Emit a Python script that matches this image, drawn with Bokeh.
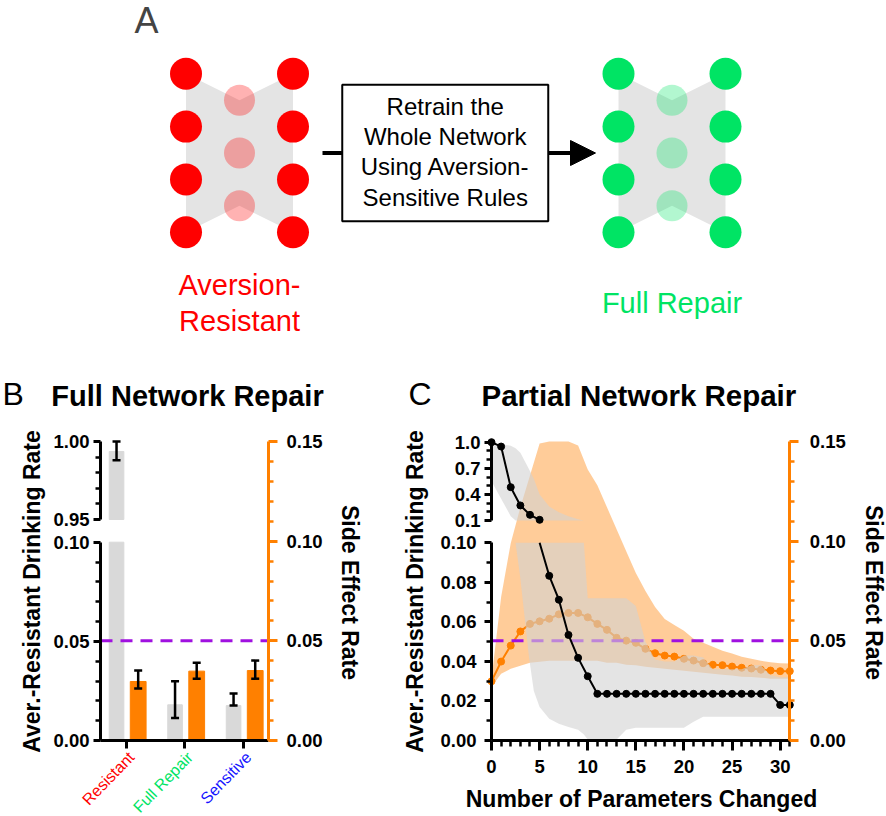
import numpy as np
from bokeh.plotting import figure
from bokeh.models import (Range1d, LinearAxis, FixedTicker, NumeralTickFormatter, Label,
                          Whisker, TeeHead, ColumnDataSource, Arrow, NormalHead)
from bokeh.layouts import column, row
from bokeh.embed import file_html
from bokeh.resources import INLINE
from bokeh.core.properties import value

FONT = "Liberation Sans"
RED = "#ff0000"
GREEN = "#00e464"
BLUE = "#1414ff"
ORANGE = "#ff8000"
PURPLE = "#a010e0"
GRAY_BAR = "#d9d9d9"
GRAY_BAND = "#d2d2d2"
HEX_GRAY = "#e4e4e4"

# ======================= DATA =======================
# Panel A : network schematic
layer_sizes = [4, 3, 4]
net_colors = [RED, GREEN]
net_labels = [["Aversion-", "Resistant"], ["Full Repair"]]
box_lines = ["Retrain the", "Whole Network", "Using Aversion-", "Sensitive Rules"]

# Panel B : full network repair
cats_B = ["Resistant", "Full Repair", "Sensitive"]
cat_colors_B = [RED, GREEN, BLUE]
drink_B = [0.9936, 0.0180, 0.0176]
drink_B_low = [0.9880, 0.0114, 0.0176]
drink_B_high = [1.0000, 0.0299, 0.0237]
side_B = [0.0296, 0.0348, 0.0351]
side_B_low = [0.0261, 0.0310, 0.0310]
side_B_high = [0.0351, 0.0390, 0.0401]
threshold = 0.05

# Panel C : partial network repair
n_C = [0, 1, 2, 3, 4, 5, 6, 7, 8, 9, 10, 11, 12, 13, 14, 15,
       16, 17, 18, 19, 20, 21, 22, 23, 24, 25, 26, 27, 28, 29, 30, 31]
drink_C = [1.0, 0.95, 0.483, 0.273, 0.165, 0.108, 0.0833, 0.0712, 0.0534, 0.0418, 0.0325,
           0.0236, 0.0236, 0.0236, 0.0236, 0.0236, 0.0236, 0.0236, 0.0236, 0.0236, 0.0236,
           0.0236, 0.0236, 0.0236, 0.0236, 0.0236, 0.0236, 0.0236, 0.0236, 0.0236, 0.018, 0.018]
side_C = [0.0297, 0.0396, 0.0476, 0.0547, 0.0585, 0.0598, 0.0611, 0.0633, 0.0640, 0.0640,
          0.0618, 0.0585, 0.0555, 0.0515, 0.0501, 0.0490, 0.0460, 0.0438, 0.0426, 0.0421,
          0.0410, 0.0401, 0.0388, 0.0380, 0.0378, 0.0371, 0.0365, 0.0361, 0.0355, 0.0351,
          0.0348, 0.0348]
side_C_low = [0.027, 0.0335, 0.036, 0.0375, 0.039, 0.0395, 0.040, 0.040, 0.040, 0.040,
              0.040, 0.040, 0.039, 0.039, 0.038, 0.0378, 0.037, 0.0365, 0.036, 0.0355,
              0.035, 0.0345, 0.034, 0.0335, 0.033, 0.0326, 0.032, 0.0318, 0.0315, 0.031,
              0.031, 0.031]
side_C_high = [0.031, 0.072, 0.099, 0.117, 0.133, 0.149, 0.150, 0.150, 0.150, 0.148,
               0.136, 0.128, 0.117, 0.106, 0.095, 0.084, 0.075, 0.067, 0.061, 0.058,
               0.055, 0.051, 0.049, 0.047, 0.045, 0.0436, 0.042, 0.041, 0.040, 0.0393,
               0.0388, 0.0386]
band_x_C = [0, 1, 2, 2.5, 3, 3.9, 4.4, 5, 6, 7, 8, 9, 9.6, 10, 11, 12, 13, 14, 15, 16,
            17, 18, 19, 20, 21, 22, 23, 24, 25, 26, 27, 28, 29, 30, 31]
drink_C_low = [0.55, 0.35, 0.15, 0.10, 0.082, 0.042, 0.025, 0.017, 0.011, 0.0085, 0.0068,
               0.0055, 0.003, 0.0005, 0.0, 0.0, 0.0005, 0.0055, 0.0065, 0.0065, 0.0065,
               0.0065, 0.0065, 0.0065, 0.0095, 0.012, 0.012, 0.012, 0.012, 0.012, 0.012,
               0.012, 0.012, 0.012, 0.012]
drink_C_high = [0.98, 0.975, 0.96, 0.93, 0.88, 0.69, 0.58, 0.40, 0.26, 0.195, 0.15, 0.115,
                0.10, 0.072, 0.072, 0.072, 0.072, 0.072, 0.068, 0.050, 0.041, 0.040, 0.040,
                0.043, 0.043, 0.042, 0.036, 0.036, 0.036, 0.036, 0.038, 0.038, 0.033, 0.032,
                0.032]

# broken-axis segments (left axis) and right axis
B_HI = (0.95, 1.00)
B_LO = (0.0, 0.10)
C_HI = (0.1, 1.0)
C_LO = (0.0, 0.10)
SIDE = (0.0, 0.15)
B_XB = (0.556, 3.427)          # extent of panel B's x axis (category units)
C_XB = (n_C[0], n_C[-1])       # extent of panel C's x axis

# ======================= LAYOUT HELPERS =======================
PAGE_W, PAGE_H = 886, 816
A_H = 372
B_W = 395


def xr(d0, d1, p0, p1, size):
    """Range placing data d0, d1 on pixels p0, p1 (from the canvas's left)."""
    s = (d1 - d0) / (p1 - p0)
    start = d0 - p0 * s
    return Range1d(start, start + size * s)


def yr(d0, d1, p0, p1, size):
    """Range placing data d0, d1 on pixels p0, p1 (from the canvas's top)."""
    s = (d1 - d0) / (p0 - p1)
    end = d1 + p1 * s
    return Range1d(end - size * s, end)


def style_axis(ax, color="black", tick_out=8, minor_out=5, standoff=5,
               size="18.5px", style="bold", label_color="black"):
    ax.axis_line_color = color
    ax.axis_line_width = 3
    ax.major_tick_line_color = color
    ax.major_tick_line_width = 3
    ax.minor_tick_line_color = color
    ax.minor_tick_line_width = 2.5
    ax.major_tick_in = 0
    ax.major_tick_out = tick_out
    ax.minor_tick_in = 0
    ax.minor_tick_out = minor_out
    ax.major_label_standoff = standoff
    ax.major_label_text_font = FONT
    ax.major_label_text_font_style = style
    ax.major_label_text_font_size = size
    ax.major_label_text_color = label_color


def steps(a, b, d):
    return [round(v, 4) for v in np.arange(a, b + d / 2, d)]


def minor(a, b, d, majors):
    return [v for v in steps(a, b, d) if all(abs(v - m) > 1e-9 for m in majors)]


def whisker(p, base, low, high, rng=None):
    src = ColumnDataSource(dict(base=list(base), lower=list(low), upper=list(high)))
    kw = {} if rng is None else {"y_range_name": rng}
    p.add_layout(Whisker(source=src, base="base", lower="lower", upper="upper",
                         line_color="black", line_width=2.5, level="overlay",
                         upper_head=TeeHead(size=8, line_width=2.5, line_color="black"),
                         lower_head=TeeHead(size=8, line_width=2.5, line_color="black"),
                         **kw))


def txt(p, origin, sx, sy, text, size, bold=True, angle=0.0, align="center", color="black"):
    """Text whose visual centre line lies at screen (sx, sy)."""
    ox, oy, h = origin
    p.add_layout(Label(x=sx - ox, y=oy + h - sy, x_units="screen", y_units="screen",
                       text=text, angle=angle, text_align=align, text_baseline="middle",
                       text_font=FONT, text_font_size=size, text_color=color,
                       text_font_style="bold" if bold else "normal"))


def clean(p):
    p.grid.visible = False
    p.outline_line_color = None
    p.background_fill_color = "white"
    p.border_fill_color = "white"


def side_axis(p, xloc, standoff):
    ax = LinearAxis(fixed_location=xloc, bounds=SIDE,
                    ticker=FixedTicker(ticks=steps(SIDE[0], SIDE[1], 0.05),
                                       minor_ticks=minor(SIDE[0], SIDE[1], 0.01,
                                                         steps(SIDE[0], SIDE[1], 0.05))),
                    formatter=NumeralTickFormatter(format="0.00"))
    style_axis(ax, color=ORANGE, tick_out=9, minor_out=5, standoff=standoff)
    p.add_layout(ax, "right")


def seg_axis(p, rng, seg, xloc, major_step, minor_step, fmt, standoff):
    ax = LinearAxis(y_range_name=rng, bounds=seg, fixed_location=xloc,
                    ticker=FixedTicker(ticks=steps(seg[0], seg[1], major_step),
                                       minor_ticks=minor(seg[0], seg[1], minor_step,
                                                         steps(seg[0], seg[1], major_step))),
                    formatter=NumeralTickFormatter(format=fmt))
    style_axis(ax, tick_out=7, minor_out=5, standoff=standoff)
    p.add_layout(ax, "left")


def new_fig(w, h, x_range, y_range):
    p = figure(width=w, height=h, x_range=x_range, y_range=y_range, output_backend="svg",
               toolbar_location=None, x_axis_location=None, y_axis_location=None,
               min_border=0)
    clean(p)
    return p


# ======================= PANEL A =======================
pA = new_fig(PAGE_W, A_H, Range1d(0, PAGE_W), Range1d(A_H, 0))

NET_CX = [239.0, 671.5]
NET_CY = 152.5
LAYER_GAP = 53.5
NODE_GAP = 52.8
NODE_R = [16.0, 15.5, 16.0]
NODE_ALPHA = [1.0, 0.3, 1.0]
LABEL_MID, LABEL_GAP = 302.3, 35.5

for cx, col, lab in zip(NET_CX, net_colors, net_labels):
    xs, ys, rs, als, tops, bots = [], [], [], [], [], []
    for l, n in enumerate(layer_sizes):
        lx = cx + (l - (len(layer_sizes) - 1) / 2) * LAYER_GAP
        cy = [NET_CY + (i - (n - 1) / 2) * NODE_GAP for i in range(n)]
        tops.append((lx, cy[0]))
        bots.append((lx, cy[-1]))
        xs += [lx] * n
        ys += cy
        rs += [NODE_R[l]] * n
        als += [NODE_ALPHA[l]] * n
    outline = tops + bots[::-1]
    pA.patch([q[0] for q in outline], [q[1] for q in outline], fill_color=HEX_GRAY,
             line_color=None)
    pA.circle(x=xs, y=ys, radius=rs, fill_color=col, fill_alpha=als, line_color=None)
    nl = len(lab)
    pA.text(x=[cx] * nl, y=[LABEL_MID + (j - (nl - 1) / 2) * LABEL_GAP for j in range(nl)],
            text=lab, text_color=col, text_font=value(FONT), text_font_size="29px",
            text_align="center", text_baseline="middle")

BOX_CX, BOX_W, BOX_H = 444.75, 206, 136.4
pA.add_layout(Arrow(end=NormalHead(size=25, fill_color="black", line_color="black"),
                    x_start=322, y_start=NET_CY, x_end=595, y_end=NET_CY,
                    line_width=4, line_color="black", level="underlay"))
pA.rect(x=[BOX_CX], y=[NET_CY], width=BOX_W, height=BOX_H, fill_color="white",
        line_color="black", line_width=2)
pA.text(x=[BOX_CX] * len(box_lines), y=[105.7 + i * 30.3 for i in range(len(box_lines))],
        text=box_lines, text_color="black", text_font=value(FONT), text_font_size="24px",
        text_align="center", text_baseline="middle")
pA.add_layout(Label(x=134, y=20, text="A", text_font=FONT, text_font_size="36px",
                    text_baseline="middle"))

# ======================= PANEL B =======================
RH = PAGE_H - A_H                    # height of the B/C row
OB = (0, A_H, RH)                    # origin (screen x, screen y) and height of B
pB = new_fig(B_W, RH, xr(B_XB[0], B_XB[1], 100, 268, B_W),
             yr(SIDE[0], SIDE[1], 368, 69, RH))
pB.extra_y_ranges = {"lo": yr(B_LO[0], B_LO[1], 368, 169.7, RH),
                     "hi": yr(B_HI[0], B_HI[1], 147, 69, RH)}

cat_pos = np.arange(1, len(cats_B) + 1, dtype=float)
gx = cat_pos - 0.17
ox = cat_pos + 0.20
dB = np.array(drink_B)
dBl = np.array(drink_B_low)
dBh = np.array(drink_B_high)

pB.vbar(x=gx, top=np.minimum(dB, B_LO[1]), bottom=B_LO[0], width=0.25,
        color=GRAY_BAR, y_range_name="lo")
m_hi = dB >= B_HI[0]
pB.vbar(x=gx[m_hi], top=dB[m_hi], bottom=B_HI[0], width=0.25, color=GRAY_BAR,
        y_range_name="hi")
pB.vbar(x=ox, top=side_B, bottom=0, width=0.27, color=ORANGE)
pB.segment(x0=[B_XB[0]], x1=[B_XB[1]], y0=[threshold], y1=[threshold],
           line_color=PURPLE, line_width=3, line_dash="12 8")

m_lo = dBh <= B_LO[1]
whisker(pB, gx[m_lo], dBl[m_lo], dBh[m_lo], "lo")
whisker(pB, gx[m_hi], dBl[m_hi], dBh[m_hi], "hi")
whisker(pB, ox, side_B_low, side_B_high)

side_axis(pB, B_XB[1], standoff=9)
seg_axis(pB, "lo", B_LO, B_XB[0], 0.05, 0.01, "0.00", 4)
seg_axis(pB, "hi", B_HI, B_XB[0], 0.05, 0.01, "0.00", 4)

# category axis: ticks from the axis, coloured slanted names as text glyphs
cax = LinearAxis(fixed_location=SIDE[0], bounds=B_XB,
                 ticker=FixedTicker(ticks=[float(v) for v in cat_pos], minor_ticks=[]),
                 major_label_overrides={float(v): "" for v in cat_pos})
style_axis(cax, tick_out=8, minor_out=0, standoff=2)
pB.add_layout(cax, "below")
pB.text(x=cat_pos, y=[SIDE[0]] * len(cats_B), text=cats_B, text_color=cat_colors_B,
        angle=0.8, text_align="right", text_baseline="middle", x_offset=5, y_offset=14,
        text_font=value(FONT), text_font_size="16px")

txt(pB, OB, 2, 393.5, "B", "32px", bold=False, align="left")
txt(pB, OB, 187, 395, "Full Network Repair", "29px")
txt(pB, OB, 31, 591, "Aver.-Resistant Drinking Rate", "23px", angle=np.pi / 2)
txt(pB, OB, 349.5, 592, "Side Effect Rate", "23px", angle=-np.pi / 2)

# ======================= PANEL C =======================
C_W = PAGE_W - B_W
OC = (B_W, A_H, RH)
pC = new_fig(C_W, RH, xr(C_XB[0], C_XB[1], 96, 394.3, C_W),
             yr(SIDE[0], SIDE[1], 368, 69, RH))
pC.extra_y_ranges = {"lo": yr(C_LO[0], C_LO[1], 368, 170.3, RH),
                     "hi": yr(C_HI[0], C_HI[1], 148, 69.7, RH)}

# orange (side effect) band + mean
pC.varea(x=n_C, y1=side_C_low, y2=side_C_high, fill_color=ORANGE, fill_alpha=0.4)
pC.line(n_C, side_C, line_color=ORANGE, line_width=2)
pC.scatter(n_C, side_C, size=7, color=ORANGE)
pC.segment(x0=[C_XB[0]], x1=[C_XB[1]], y0=[threshold], y1=[threshold],
           line_color=PURPLE, line_width=3, line_dash="12 8")

# gray (drinking rate) band on the broken axis
lo_c = np.array(drink_C_low)
hi_c = np.array(drink_C_high)
pC.varea(x=band_x_C, y1=np.minimum(lo_c, C_LO[1]), y2=np.minimum(hi_c, C_LO[1]),
         fill_color=GRAY_BAND, fill_alpha=0.6, y_range_name="lo")
pC.varea(x=band_x_C, y1=np.maximum(lo_c, C_HI[0]), y2=np.maximum(hi_c, C_HI[0]),
         fill_color=GRAY_BAND, fill_alpha=0.6, y_range_name="hi")

d = np.array(drink_C)
nxt = np.append(d[1:], d[-1])
lo_line = np.where(d <= C_LO[1], d, np.where(nxt <= C_LO[1], C_LO[1], np.nan))
lo_pts = np.where(d <= C_LO[1], d, np.nan)
hi_pts = np.where(d >= C_HI[0], d, np.nan)
pC.line(n_C, lo_line, line_color="black", line_width=2, y_range_name="lo")
pC.scatter(n_C, lo_pts, size=7, color="black", y_range_name="lo")
pC.line(n_C, hi_pts, line_color="black", line_width=2, y_range_name="hi")
pC.scatter(n_C, hi_pts, size=7, color="black", y_range_name="hi")

xax = LinearAxis(fixed_location=SIDE[0], bounds=C_XB,
                 ticker=FixedTicker(ticks=list(range(0, 31, 5)),
                                    minor_ticks=[v for v in n_C if v % 5 != 0]))
style_axis(xax, tick_out=10, minor_out=6, standoff=9, size="18.5px")
pC.add_layout(xax, "below")
side_axis(pC, C_XB[1], standoff=11)
seg_axis(pC, "lo", C_LO, C_XB[0], 0.02, 0.01, "0.00", 8)
seg_axis(pC, "hi", C_HI, C_XB[0], 0.3, 0.1, "0.0", 4)

txt(pC, OC, 408, 393.5, "C", "32px", bold=False, align="left")
txt(pC, OC, 642.5, 395, "Partial  Network Repair", "29.5px")
txt(pC, OC, 414, 591, "Aver.-Resistant Drinking Rate", "23px", angle=np.pi / 2)
txt(pC, OC, 873.5, 592, "Side Effect Rate", "23px", angle=-np.pi / 2)
txt(pC, OC, 641, 798.5, "Number of Parameters Changed", "23px")

layout = column(pA, row(pB, pC, spacing=0), spacing=0)
open("out.html", "w").write(file_html(layout, INLINE, title="Network repair"))
